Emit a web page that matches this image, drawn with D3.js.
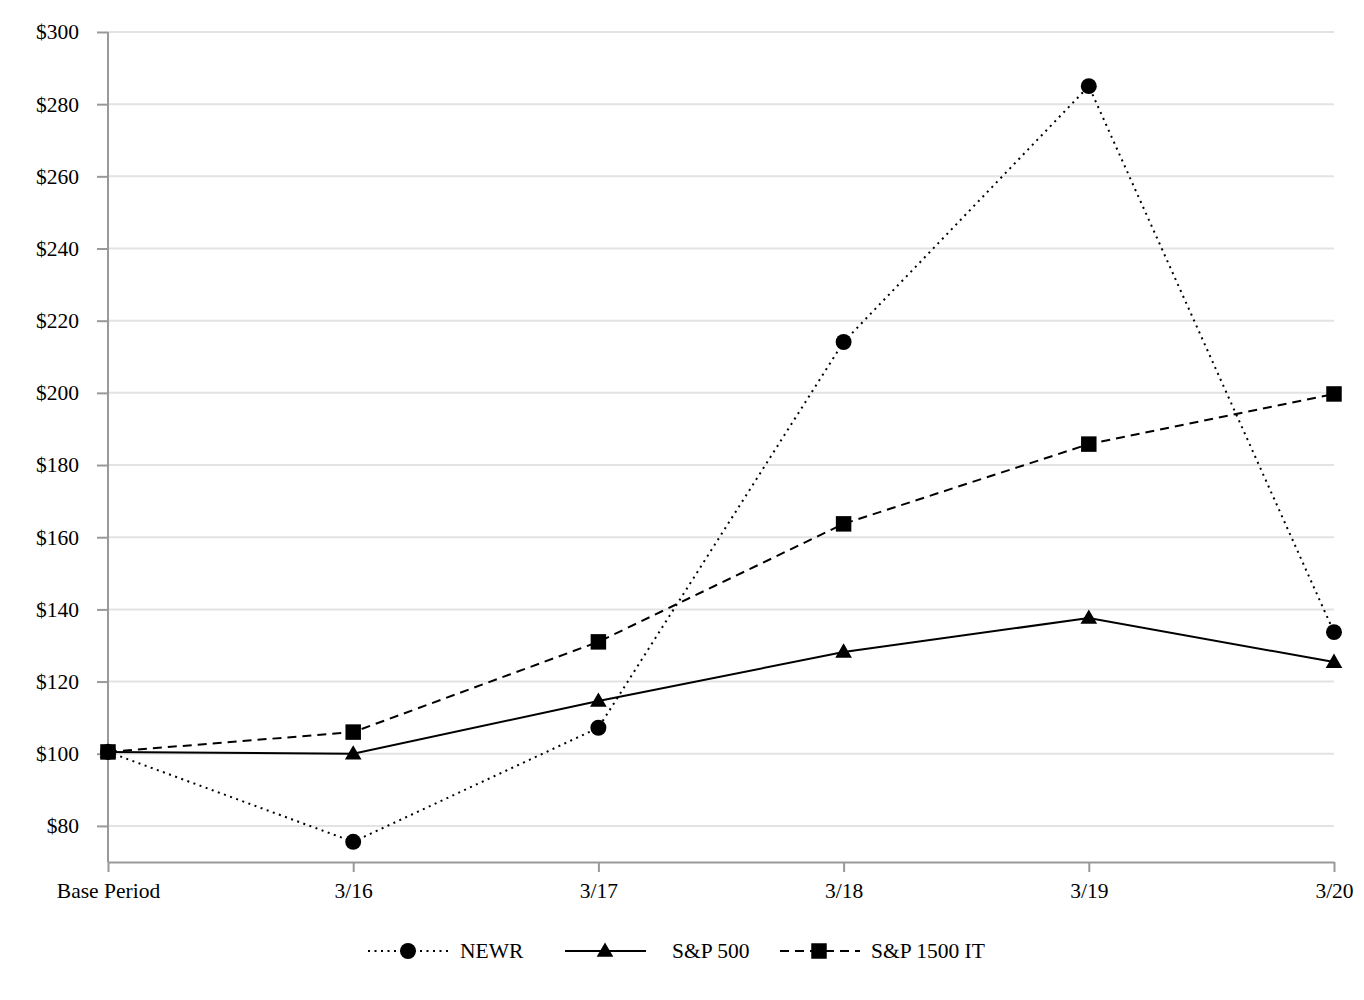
<!DOCTYPE html>
<html><head><meta charset="utf-8">
<script src="https://cdn.jsdelivr.net/npm/d3@7"></script>
<style>body{margin:0;background:#fff}svg{display:block}text{font-family:"Liberation Serif","Times New Roman",serif}</style>
</head><body>
<svg id="c" width="1364" height="1000"></svg>
<script>
const categories = ["Base Period","3/16","3/17","3/18","3/19","3/20"];
const newr = [100.5, 75.6, 107.2, 214.1, 285.0, 133.7];
const sp500 = [100.5, 100.0, 114.6, 128.2, 137.6, 125.4];
const sp1500it = [100.5, 106.0, 131.0, 163.7, 185.8, 199.7];
const yTicks = [80,100,120,140,160,180,200,220,240,260,280,300];
const seriesNames = ["NEWR","S&P 500","S&P 1500 IT"];

const svg = d3.select("#c");
const x = d3.scalePoint().domain(categories).range([108,1334]);
const y = d3.scaleLinear().domain([70,300]).range([862,32]);
const FS = 21.5;

// gridlines
svg.append("g").selectAll("line").data(yTicks).join("line")
  .attr("x1",108).attr("x2",1334).attr("y1",d=>y(d)).attr("y2",d=>y(d))
  .attr("stroke","#e3e3e3").attr("stroke-width",2);

// y axis
const ya = svg.append("g").attr("transform","translate(108,0)")
  .call(d3.axisLeft(y).tickValues(yTicks).tickSize(11).tickPadding(18).tickFormat(d=>"$"+d));
ya.select(".domain").attr("d","M0,"+y(300)+"V"+y(70)).attr("stroke","#999").attr("stroke-width",2);
ya.selectAll(".tick line").attr("stroke","#999").attr("stroke-width",2);
ya.selectAll(".tick text").attr("font-size",FS).attr("fill","#000").attr("font-family","Liberation Serif");

// x axis
const xa = svg.append("g").attr("transform","translate(0,"+y(70)+")")
  .call(d3.axisBottom(x).tickSize(10).tickPadding(11).tickSizeOuter(0));
xa.select(".domain").attr("stroke","#999").attr("stroke-width",2);
xa.selectAll(".tick line").attr("stroke","#999").attr("stroke-width",2);
xa.selectAll(".tick text").attr("font-size",FS).attr("fill","#000").attr("font-family","Liberation Serif");

const line = d3.line().x((d,i)=>x(categories[i])).y(d=>y(d));
const styles = [
  {data:newr, dash:"2,4.5", w:2, marker:"circle"},
  {data:sp500, dash:null, w:2, marker:"triangle"},
  {data:sp1500it, dash:"9,6", w:2, marker:"square"}
];
const sym = {circle:d3.symbolCircle, triangle:d3.symbolTriangle, square:d3.symbolSquare};
const symSize = {circle:200, triangle:120, square:240};

styles.forEach(s=>{
  svg.append("path").datum(s.data).attr("d",line).attr("fill","none")
    .attr("stroke","#000").attr("stroke-width",s.w)
    .attr("stroke-dasharray",s.dash);
});
styles.forEach(s=>{
  svg.append("g").selectAll("path").data(s.data).join("path")
    .attr("transform",(d,i)=>`translate(${x(categories[i])},${y(d)+(s.marker==="triangle"?1:0)})`)
    .attr("d",d3.symbol().type(sym[s.marker]).size(symSize[s.marker]))
    .attr("fill","#000");
});

// legend
const legend = [
  {x1:368,x2:448,mx:408,tx:460},
  {x1:565,x2:646,mx:605,tx:672},
  {x1:780,x2:860,mx:819,tx:871}
];
const ly = 951;
legend.forEach((l,i)=>{
  const s = styles[i];
  const g = svg.append("g");
  g.append("line").attr("x1",l.x1).attr("x2",l.x2).attr("y1",ly).attr("y2",ly)
    .attr("stroke","#000").attr("stroke-width",2).attr("stroke-dasharray",s.dash);
  g.append("path").attr("transform",`translate(${l.mx},${ly+(s.marker==="triangle"?1:0)})`)
    .attr("d",d3.symbol().type(sym[s.marker]).size(symSize[s.marker])).attr("fill","#000");
  g.append("text").attr("x",l.tx).attr("y",ly+7).attr("font-size",FS).text(seriesNames[i]);
});
</script>
</body></html>
